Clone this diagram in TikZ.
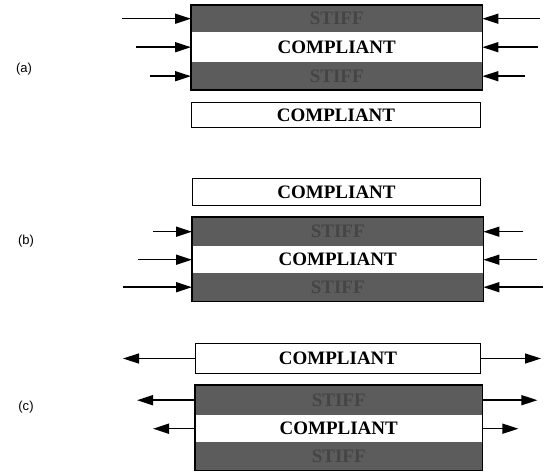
\documentclass[tikz,border=0pt]{standalone}
\usepackage{fontspec}
\setmainfont{Liberation Serif}
\newfontfamily\labelfont{Liberation Sans}
\usetikzlibrary{arrows.meta}
\definecolor{stiffgray}{gray}{0.36}
\definecolor{stifftext}{gray}{0.27}
\tikzset{
  band/.style={rectangle, inner sep=0pt, anchor=north west, font=\bfseries\fontsize{19}{19}\selectfont},
  softband/.style={band, fill=white},
  stiffband/.style={band, fill=stiffgray, text=stifftext},
  outline/.style={draw=black, line width=1.8pt},
  thinbox/.style={draw=black, line width=1pt},
  arr/.style={line width=1.5pt, -{Triangle[length=16pt,width=10pt]}},
  lab/.style={font=\labelfont\fontsize{13}{13}\selectfont}
}
\begin{document}
\begin{tikzpicture}[x=1pt,y=-1pt]
\useasboundingbox (0,0) rectangle (545,473);
% ---------- (a) ----------
\node[stiffband, minimum width=291pt, minimum height=27pt] (a1) at (191,5) {STIFF};
\node[softband,  minimum width=291pt, minimum height=30pt] (a2) at (191,32) {COMPLIANT};
\node[stiffband, minimum width=291pt, minimum height=28pt] (a3) at (191,62) {STIFF};
\draw[outline] (a1.north west) rectangle (a3.south east);
\node[softband, thinbox, minimum width=289pt, minimum height=25pt] (a4) at (191,102) {COMPLIANT};
\node[lab] (la) at (24,69) {(a)};
\draw[arr] ([xshift=-69pt]a1.west) -- (a1.west);
\draw[arr] ([xshift=-55pt]a2.west) -- (a2.west);
\draw[arr] ([xshift=-41pt]a3.west) -- (a3.west);
\draw[arr] ([xshift=58pt]a1.east) -- (a1.east);
\draw[arr] ([xshift=56pt]a2.east) -- (a2.east);
\draw[arr] ([xshift=43pt]a3.east) -- (a3.east);
% ---------- (b) ----------
\node[softband, thinbox, minimum width=288pt, minimum height=27pt] (b0) at (192,178) {COMPLIANT};
\node[stiffband, minimum width=291pt, minimum height=29pt] (b1) at (192,217) {STIFF};
\node[softband,  minimum width=291pt, minimum height=27pt] (b2) at (192,246) {COMPLIANT};
\node[stiffband, minimum width=291pt, minimum height=28pt] (b3) at (192,273) {STIFF};
\draw[outline] (b1.north west) rectangle (b3.south east);
\node[lab] (lb) at (26,241) {(b)};
\draw[arr] ([xshift=-39pt]b1.west) -- (b1.west);
\draw[arr] ([xshift=-54pt]b2.west) -- (b2.west);
\draw[arr] ([xshift=-69pt]b3.west) -- (b3.west);
\draw[arr] ([xshift=40pt]b1.east) -- (b1.east);
\draw[arr] ([xshift=54pt]b2.east) -- (b2.east);
\draw[arr] ([xshift=60pt]b3.east) -- (b3.east);
% ---------- (c) ----------
\node[softband, thinbox, minimum width=285pt, minimum height=30pt] (c0) at (195,343) {COMPLIANT};
\node[stiffband, minimum width=287pt, minimum height=30pt] (c1) at (195,385) {STIFF};
\node[softband,  minimum width=287pt, minimum height=27pt] (c2) at (195,415) {COMPLIANT};
\node[stiffband, minimum width=287pt, minimum height=28pt] (c3) at (195,442) {STIFF};
\draw[outline] (c1.north west) rectangle (c3.south east);
\node[lab] (lc) at (26,407) {(c)};
\draw[arr] (c0.west) -- ([xshift=-72pt]c0.west);
\draw[arr] (c1.west) -- ([xshift=-58pt]c1.west);
\draw[arr] (c2.west) -- ([xshift=-42pt]c2.west);
\draw[arr] (c0.east) -- ([xshift=60pt]c0.east);
\draw[arr] (c1.east) -- ([xshift=55pt]c1.east);
\draw[arr] (c2.east) -- ([xshift=36pt]c2.east);
\end{tikzpicture}
\end{document}
